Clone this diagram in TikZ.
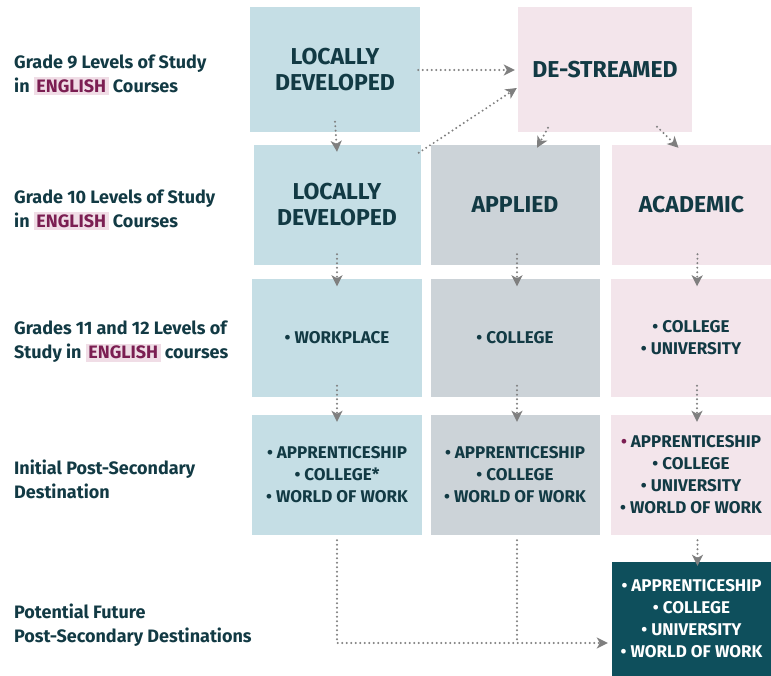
\documentclass[tikz,border=0pt]{standalone}
\usepackage{fontspec}
\setmainfont{Fira Sans}
\usetikzlibrary{arrows.meta}
\definecolor{inkcol}{HTML}{123A44}
\definecolor{engcol}{HTML}{7B1E52}
\definecolor{hlcol}{HTML}{F0DDE6}
\definecolor{bluebox}{HTML}{C5DEE5}
\definecolor{greybox}{HTML}{CCD3D8}
\definecolor{pinkbox}{HTML}{F3E5EB}
\definecolor{tealbox}{HTML}{0E4F5C}
\definecolor{arrcol}{HTML}{7F7F7F}
\newcommand{\eng}{{\setlength{\fboxsep}{2.5pt}\colorbox{hlcol}{\textcolor{engcol}{ENGLISH}}}}
\tikzset{
  rowlabel/.style={anchor=west,align=left,inner sep=0pt,text=inkcol,
    font=\bfseries\fontsize{18}{24}\selectfont},
  headbox/.style={inner sep=0pt,align=center,text=inkcol,
    font=\bfseries\fontsize{23}{26}\selectfont},
  listbox/.style={inner sep=0pt,align=center,text=inkcol,
    font=\bfseries\fontsize{17}{22}\selectfont},
  flow/.style={arrcol,line width=2.2pt,dash pattern=on 0pt off 4.5pt,line cap=round,
    -{Stealth[length=11pt,width=11pt,inset=3pt]}},
  flowline/.style={arrcol,line width=2.2pt,dash pattern=on 0pt off 4.5pt,line cap=round}
}
\begin{document}
\begin{tikzpicture}[x=1pt,y=-1pt]
\useasboundingbox (0,0) rectangle (771,676);

% row labels
\node[rowlabel] (labNine) at (14,75) {Grade 9 Levels of Study\\in \eng{} Courses};
\node[rowlabel] (labTen) at (14,210) {Grade 10 Levels of Study\\in \eng{} Courses};
\node[rowlabel] (labUpper) at (14,342) {Grades 11 and 12 Levels of\\Study in \eng{} courses};
\node[rowlabel] (labDest) at (14,479) {Initial Post-Secondary\\Destination};
\node[rowlabel] (labFuture) at (14,625) {Potential Future\\Post-Secondary Destinations};

% grade 9
\node[headbox,fill=bluebox,minimum width=170pt,minimum height=125pt] (ldNine) at (335,70) {LOCALLY\\DEVELOPED};
\node[headbox,fill=pinkbox,minimum width=174pt,minimum height=125pt] (dsNine) at (605,70) {DE-STREAMED};

% grade 10
\node[headbox,fill=bluebox,minimum width=167pt,minimum height=120pt] (ldTen) at (337,205) {LOCALLY\\DEVELOPED};
\node[headbox,fill=greybox,minimum width=169pt,minimum height=120pt] (apTen) at (515,205) {APPLIED};
\node[headbox,fill=pinkbox,minimum width=159pt,minimum height=120pt] (acTen) at (691.5,205) {ACADEMIC};

% grades 11 and 12
\node[listbox,fill=bluebox,minimum width=170pt,minimum height=117pt] (ldUpper) at (337,338) {• WORKPLACE};
\node[listbox,fill=greybox,minimum width=169pt,minimum height=117pt] (apUpper) at (515,338) {• COLLEGE};
\node[listbox,fill=pinkbox,minimum width=160pt,minimum height=117pt] (acUpper) at (691,338) {• COLLEGE\\• UNIVERSITY};

% initial destination
\node[listbox,fill=bluebox,minimum width=170pt,minimum height=120pt] (ldDest) at (337,475) {• APPRENTICESHIP\\• COLLEGE*\\• WORLD OF WORK};
\node[listbox,fill=greybox,minimum width=169pt,minimum height=120pt] (apDest) at (515,475) {• APPRENTICESHIP\\• COLLEGE\\• WORLD OF WORK};
\node[listbox,fill=pinkbox,minimum width=160pt,minimum height=120pt] (acDest) at (691,475) {\textcolor{engcol}{•} APPRENTICESHIP\\• COLLEGE\\• UNIVERSITY\\• WORLD OF WORK};

% future destination
\node[listbox,text=white,fill=tealbox,minimum width=159pt,minimum height=114pt] (future) at (691.5,619) {• APPRENTICESHIP\\• COLLEGE\\• UNIVERSITY\\• WORLD OF WORK};

% connectors
\draw[flow] ([yshift=11pt]ldNine.south) -- ([yshift=-7pt]ldTen.north);
\draw[flow] ([xshift=-2pt]ldNine.east) -- ([xshift=-3pt]dsNine.west);
\draw[flow] ([shift={(-2pt,-8pt)}]ldTen.north east) -- ([shift={(-1pt,-18pt)}]dsNine.west);
\draw[flow] ([shift={(-57pt,5pt)}]dsNine.south) -- ([shift={(22pt,-3pt)}]apTen.north);
\draw[flow] ([shift={(52pt,6pt)}]dsNine.south) -- ([shift={(-13pt,-3pt)}]acTen.north);

\draw[flow] ([yshift=11pt]ldTen.south) -- ([yshift=-7pt]ldUpper.north);
\draw[flow] ([shift={(2pt,11pt)}]apTen.south) -- ([shift={(2pt,-7pt)}]apUpper.north);
\draw[flow] ([shift={(6pt,11pt)}]acTen.south) -- ([shift={(6pt,-7pt)}]acUpper.north);

\draw[flow] ([yshift=11pt]ldUpper.south) -- ([yshift=-7pt]ldDest.north);
\draw[flow] ([shift={(2pt,11pt)}]apUpper.south) -- ([shift={(2pt,-7pt)}]apDest.north);
\draw[flow] ([shift={(6pt,11pt)}]acUpper.south) -- ([shift={(6pt,-7pt)}]acDest.north);

\coordinate (joinPt) at ([shift={(-4pt,-24pt)}]future.west);
\draw[flow] ([yshift=-5pt]acDest.south -| future.north) ++(6pt,0) -- ([shift={(6pt,-4pt)}]future.north);
\draw[flow] ([yshift=-5pt]ldDest.south) -- (ldDest.south |- joinPt) -- (joinPt);
\draw[flowline] ([shift={(2pt,-5pt)}]apDest.south) -- ([xshift=2pt]apDest.south |- joinPt);
\end{tikzpicture}
\end{document}
